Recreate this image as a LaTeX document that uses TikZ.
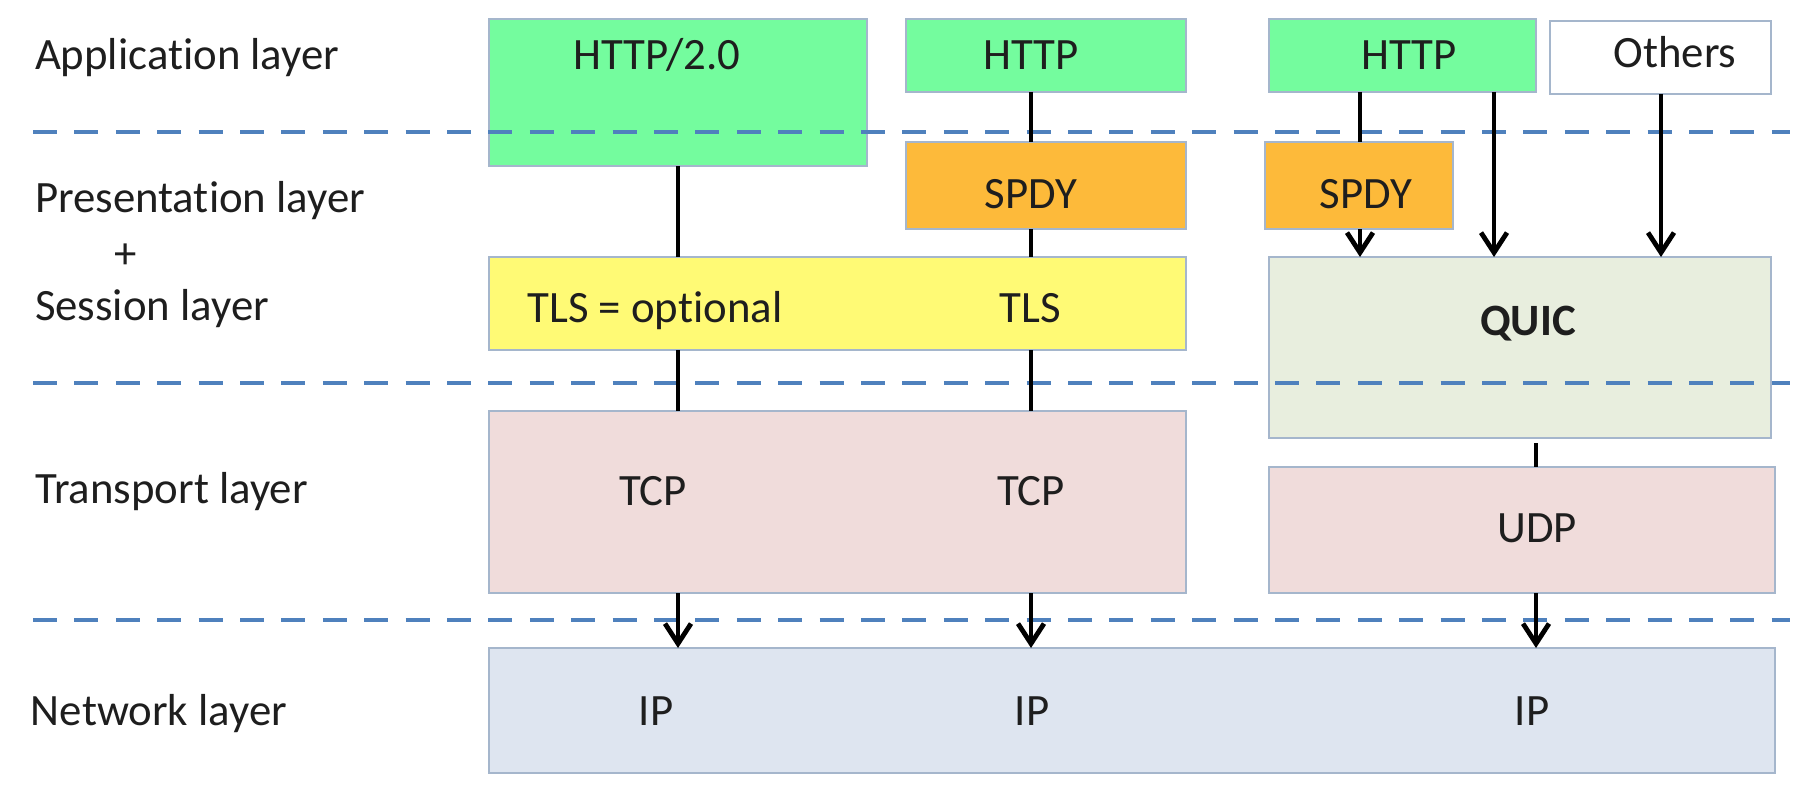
\documentclass[tikz,border=0pt]{standalone}
\usepackage{fontspec}
\setmainfont[Ligatures={NoCommon}]{Carlito}
\usetikzlibrary{arrows.meta}

\definecolor{appgreen}{RGB}{116,252,158}
\definecolor{spdyorange}{RGB}{253,186,58}
\definecolor{tlsyellow}{RGB}{255,250,117}
\definecolor{quicgreen}{RGB}{232,238,222}
\definecolor{tcppink}{RGB}{240,220,219}
\definecolor{ipblue}{RGB}{222,229,240}
\definecolor{boxedge}{RGB}{165,182,204}
\definecolor{sepblue}{RGB}{79,129,189}
\definecolor{txtgray}{RGB}{30,30,30}

\begin{document}
\begin{tikzpicture}[x=0.5pt, y=-0.5pt, every node/.style={inner sep=0pt, outer sep=0pt, font=\fontsize{22.4}{26}\selectfont, text=txtgray}]
	\tikzset{layerbox/.style={draw=boxedge, line width=1pt, rectangle}}
	\tikzset{sepline/.style={draw=sepblue, line width=2.3pt, dash pattern=on 12pt off 8.7pt}}
	\tikzset{link/.style={line width=2.4pt}, arr/.style={link, -{Straight Barb[length=10pt,width=13pt]}}}
	\useasboundingbox (0,0) rectangle (1807,791);
	% boxes
	\node[layerbox, fill=appgreen, minimum width=189pt, minimum height=73.5pt] (h2) at (678,92.5) {};
	\node[layerbox, fill=appgreen, minimum width=140pt, minimum height=36.5pt] (http1) at (1046,55.5) {};
	\node[layerbox, fill=appgreen, minimum width=133.5pt, minimum height=36.5pt] (http2) at (1402.5,55.5) {};
	\node[layerbox, fill=white, minimum width=110.5pt, minimum height=36.5pt] (others) at (1660.5,57.5) {};
	\node[layerbox, fill=spdyorange, minimum width=140pt, minimum height=43.5pt] (spdy1) at (1046,185.5) {};
	\node[layerbox, fill=spdyorange, minimum width=94pt, minimum height=43.5pt] (spdy2) at (1359,185.5) {};
	\node[layerbox, fill=tlsyellow, minimum width=348.5pt, minimum height=46.5pt] (tls) at (837.5,303.5) {};
	\node[layerbox, fill=quicgreen, minimum width=251pt, minimum height=90.5pt] (quic) at (1520,347.5) {};
	\node[layerbox, fill=tcppink, minimum width=348.5pt, minimum height=91pt] (tcp) at (837.5,502) {};
	\node[layerbox, fill=tcppink, minimum width=253pt, minimum height=63pt] (udp) at (1522,530) {};
	\node[layerbox, fill=ipblue, minimum width=643pt, minimum height=62.5pt] (ip) at (1132,710.5) {};
	% dashed layer borders
	\foreach \y in {132,383,620}
		\draw[sepline] (33,\y) -- (1790,\y);
	% layer names
	\node[anchor=base west] (lapp) at (35,70) {Application layer};
	\node[anchor=base west] (lpres) at (35,213) {Presentation layer};
	\node[anchor=base] (lplus) at (126,268) {+};
	\node[anchor=base west] (lsess) at (35,320) {Session layer};
	\node[anchor=base west] (ltrans) at (35,503) {Transport layer};
	\node[anchor=base west] (lnet) at (31,725) {Network layer};
	% box texts
	\node[anchor=base] (th2) at (657,70) {HTTP/2.0};
	\node[anchor=base] (thttp1) at (1031,70) {HTTP};
	\node[anchor=base] (thttp2) at (1409,70) {HTTP};
	\node[anchor=base] (tothers) at (1675,68) {Others};
	\node[anchor=base] (tspdy1) at (1031,208) {SPDY};
	\node[anchor=base] (tspdy2) at (1366,208) {SPDY};
	\node[anchor=base] (ttls1) at (655,322) {TLS = optional};
	\node[anchor=base] (ttls2) at (1030,322) {TLS};
	\node[anchor=base, font=\fontsize{22.4}{26}\selectfont\bfseries] (tquic) at (1528,335) {QUIC};
	\node[anchor=base] (ttcp1) at (653,505) {TCP};
	\node[anchor=base] (ttcp2) at (1031,505) {TCP};
	\node[anchor=base] (tudp) at (1537,542) {UDP};
	\node[anchor=base] (tip1) at (656,725) {IP};
	\node[anchor=base] (tip2) at (1032,725) {IP};
	\node[anchor=base] (tip3) at (1532,725) {IP};
	% links
	\coordinate (c1) at (678,0);
	\coordinate (c2) at (1031,0);
	\coordinate (c3) at (1360,0);
	\coordinate (c4) at (1494,0);
	\coordinate (c5) at (1661,0);
	\coordinate (c6) at (1536,0);
	\draw[link] (h2.south -| c1) -- (tls.north -| c1);
	\draw[link] (tls.south -| c1) -- (tcp.north -| c1);
	\draw[arr] (tcp.south -| c1) -- (ip.north -| c1);
	\draw[link] (http1.south -| c2) -- (spdy1.north -| c2);
	\draw[link] (spdy1.south -| c2) -- (tls.north -| c2);
	\draw[link] (tls.south -| c2) -- (tcp.north -| c2);
	\draw[arr] (tcp.south -| c2) -- (ip.north -| c2);
	\draw[link] (http2.south -| c3) -- (spdy2.north -| c3);
	\draw[arr] (spdy2.south -| c3) -- (quic.north -| c3);
	\draw[arr] (http2.south -| c4) -- (quic.north -| c4);
	\draw[arr] (others.south -| c5) -- (quic.north -| c5);
	\draw[link, shorten <=2.5pt] (quic.south -| c6) -- (udp.north -| c6);
	\draw[arr] (udp.south -| c6) -- (ip.north -| c6);
\end{tikzpicture}
\end{document}
